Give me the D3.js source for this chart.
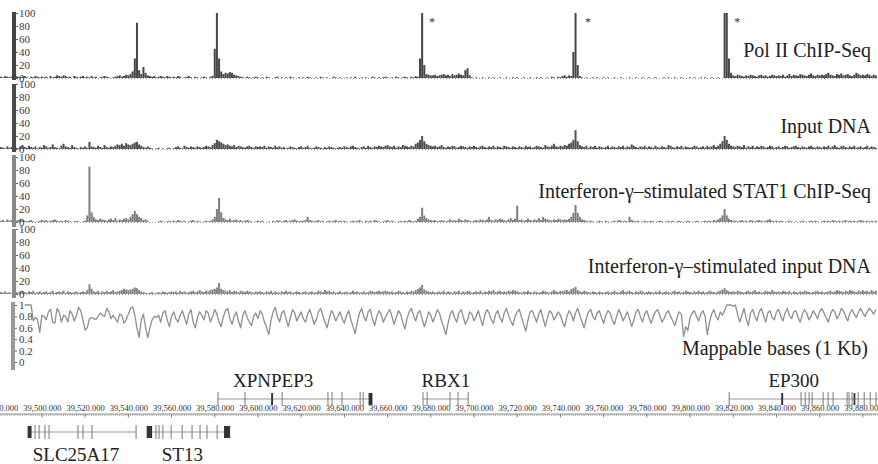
<!DOCTYPE html>
<html>
<head>
<meta charset="utf-8">
<script src="https://cdn.jsdelivr.net/npm/d3@7"></script>
<style>
  body { margin: 0; background: #fff; }
  svg { display: block; }
  text { font-family: "Liberation Serif", "DejaVu Serif", serif; }
</style>
</head>
<body>
<svg id="chart" width="878" height="464"></svg>
<script>
// ---- data (1 kb bins, first bin = 39,481 kb) ----
const binStart = 39481;

const trackLabels = [
  "Pol II ChIP-Seq",
  "Input DNA",
  "Interferon-\u03b3\u2013stimulated STAT1 ChIP-Seq",
  "Interferon-\u03b3\u2013stimulated input DNA"
];
const yTicks = [0, 20, 40, 60, 80, 100];

const polII = [
  2,1,3,2,1,2,0,3,2,1,2,3,1,0,2,1,3,2,1,2,
  1,2,0,3,1,2,4,3,2,4,3,1,2,0,3,2,1,2,3,1,
  2,1,3,1,2,0,1,2,3,2,1,0,1,2,3,4,2,3,5,4,
  6,10,30,85,12,6,17,8,4,3,2,3,1,2,3,2,1,3,2,1,
  2,1,3,2,0,1,2,3,1,0,2,1,0,1,2,1,0,2,3,45,
  100,30,10,6,8,7,9,8,5,4,3,2,1,0,2,1,0,1,2,1,
  0,1,0,2,1,0,0,1,2,0,1,0,1,0,2,1,0,0,1,0,
  1,0,2,1,0,0,1,0,2,1,0,1,0,0,2,1,0,1,0,0,
  1,0,1,0,2,0,0,1,0,1,0,0,2,1,0,1,0,1,2,1,
  0,1,0,2,1,0,1,2,1,0,2,1,3,2,30,100,20,6,5,4,
  4,5,3,4,5,6,4,5,3,6,4,5,7,5,4,12,15,4,1,0,
  1,0,0,1,0,0,1,0,1,0,0,1,0,0,1,0,0,1,0,1,
  0,0,1,0,0,1,0,0,1,0,1,0,0,1,0,2,1,0,2,1,
  3,4,2,4,3,40,100,20,3,1,0,1,0,0,1,0,1,0,0,1,
  0,1,0,0,1,0,0,1,0,0,0,1,0,0,1,0,0,1,0,0,
  1,0,0,1,0,0,0,1,0,1,0,0,1,0,0,1,0,0,0,1,
  0,1,0,0,1,0,1,0,0,1,0,0,1,0,0,100,100,30,8,4,
  3,5,4,3,2,4,3,5,4,3,2,4,5,3,4,2,3,5,4,3,
  4,3,5,2,4,6,3,5,4,3,6,5,4,3,5,7,4,3,5,4,
  5,4,6,8,5,4,3,6,5,7,4,5,6,4,3,5,8,6,4,5,
  4,6,5,3,5,4
];

const inputDNA = [
  3,2,1,4,2,3,5,2,1,4,6,3,2,5,3,2,4,1,3,2,
  6,4,2,3,7,3,2,1,5,8,4,3,2,6,3,2,1,3,2,4,
  2,11,4,3,2,5,3,2,6,3,2,4,3,5,7,6,8,5,9,7,
  6,8,10,11,7,5,3,2,4,2,1,0,1,2,0,1,0,1,2,0,
  1,3,4,2,1,5,3,2,4,3,2,4,3,2,3,5,4,3,6,9,
  14,12,10,8,6,7,5,4,6,3,5,4,3,2,4,5,3,2,4,3,
  4,3,5,2,4,3,2,5,3,4,2,3,1,2,4,3,2,1,3,4,
  2,3,5,2,1,2,4,3,2,1,3,2,4,3,2,1,2,3,2,4,
  3,2,4,5,3,2,1,3,4,2,5,3,2,4,3,5,4,3,5,6,
  4,3,5,2,4,3,6,5,4,3,5,4,8,10,14,20,12,8,6,5,
  4,5,3,4,6,3,2,4,3,5,4,2,3,5,4,3,2,4,3,5,
  3,2,4,5,3,2,4,3,5,2,4,3,2,5,4,3,2,4,3,2,
  4,3,2,5,3,4,2,3,5,4,3,2,6,4,3,5,8,4,3,5,
  4,6,5,8,10,14,29,12,6,4,3,5,2,4,3,5,2,4,3,2,
  3,5,2,4,3,2,4,3,5,2,4,3,7,5,3,2,4,3,5,2,
  4,3,2,5,3,2,4,3,2,6,5,3,2,4,3,5,2,4,3,2,
  3,5,4,2,3,4,2,5,3,4,6,3,5,8,12,20,14,8,5,4,
  3,5,4,3,6,2,4,3,5,2,4,3,5,4,2,3,5,4,2,3,
  4,2,3,5,4,2,3,4,5,3,2,4,3,2,4,5,3,2,4,3,
  2,4,3,5,2,4,6,3,2,4,5,3,2,4,3,5,2,3,4,2,
  3,5,2,4,3,2
];

const stat1 = [
  2,3,1,4,2,3,4,2,3,5,3,2,1,2,3,1,0,1,2,3,
  2,3,1,2,3,4,2,1,2,1,3,2,1,0,1,2,1,0,1,2,
  10,85,15,8,4,3,5,4,3,2,4,5,3,6,2,4,3,5,6,4,
  8,12,17,12,8,6,3,4,2,0,0,0,0,1,2,1,0,1,2,1,
  2,1,3,2,1,2,0,1,2,3,1,2,1,0,1,2,1,2,4,8,
  20,37,15,6,4,3,5,2,3,4,2,3,1,2,3,2,1,0,1,2,
  1,2,0,0,1,0,2,1,3,2,1,2,3,1,2,3,4,2,1,2,
  2,3,8,3,2,1,2,3,1,2,0,1,2,1,2,3,1,2,1,2,
  1,0,1,2,1,2,3,1,0,2,1,2,1,3,2,1,0,1,2,3,
  1,2,1,0,1,2,1,2,1,3,2,1,2,5,8,22,10,6,4,3,
  2,3,1,2,3,2,1,2,4,2,3,2,5,3,2,4,3,2,1,2,
  3,2,4,3,2,4,8,3,2,4,3,5,4,3,2,4,6,3,5,25,
  3,4,2,3,5,3,2,4,3,6,3,8,5,4,3,2,4,3,5,4,
  3,4,3,5,8,14,26,14,8,4,3,2,1,2,1,0,1,2,1,0,
  2,1,0,1,2,1,3,2,1,2,1,8,3,2,1,2,0,1,2,1,
  1,2,1,0,1,2,1,0,1,2,1,2,0,1,2,1,0,1,2,1,
  0,1,2,1,0,1,2,1,2,1,3,2,4,6,10,20,10,5,3,2,
  2,1,2,3,1,2,1,3,2,1,2,3,2,1,2,3,4,2,1,2,
  1,2,1,0,1,2,1,0,1,0,1,2,1,0,1,2,1,2,1,0,
  1,2,1,2,1,3,2,1,2,1,2,3,1,2,1,2,1,2,3,2,
  1,2,1,2,1,2
];

const ifnInput = [
  3,2,4,2,3,1,4,3,2,4,5,3,2,4,3,5,2,3,4,2,
  3,4,2,3,5,2,3,4,3,5,2,4,3,2,3,4,2,3,4,3,
  6,15,8,4,3,5,2,4,3,5,3,4,6,3,4,5,6,8,7,6,
  7,8,10,9,6,4,3,2,1,2,3,1,2,3,2,4,3,2,3,4,
  3,4,2,5,3,4,2,3,4,5,3,4,6,4,3,5,4,6,7,8,
  10,17,8,6,5,4,6,3,5,4,3,5,4,3,5,4,3,2,4,3,
  4,3,2,4,3,5,2,4,3,2,4,3,5,3,4,2,3,4,3,2,
  3,4,2,3,4,2,3,5,4,3,6,4,5,3,4,2,3,4,2,3,
  4,2,3,5,3,4,2,3,4,2,3,5,4,3,4,5,3,4,5,4,
  3,4,2,3,5,4,3,2,4,3,5,4,6,8,10,14,7,5,4,3,
  4,2,3,4,3,5,2,4,3,2,4,3,5,2,4,3,5,4,2,3,
  4,3,5,2,4,3,5,4,6,3,4,5,3,4,3,5,4,6,5,4,
  3,2,4,3,5,3,2,4,3,2,3,5,4,3,2,4,6,4,3,5,
  4,5,6,4,7,9,11,6,4,3,5,4,3,2,4,3,2,4,3,2,
  3,4,2,3,5,3,2,4,6,3,4,5,3,2,4,3,5,4,2,3,
  4,3,2,4,3,5,2,3,4,3,2,4,5,3,4,2,3,5,4,3,
  2,4,3,5,3,4,2,3,5,4,3,2,4,5,7,9,6,4,3,4,
  3,5,4,3,2,4,5,3,4,6,3,4,2,3,5,4,3,6,4,3,
  4,3,5,4,3,5,2,4,3,2,4,3,5,4,3,2,3,4,5,3,
  4,2,3,4,5,3,4,6,5,4,3,5,4,6,5,4,3,5,4,6,
  4,5,3,6,4,5
];

// mappable bases per 1 kb window, in percent, starting at 39,492 kb
const mapStart = 39492;
const mapLabel = "Mappable bases (1 Kb)";
const mapTicks = [0, 20, 40, 60, 80, 100];
const mappablePct = [
  100,100,100,100,72,78,74,52,82,
  80,74,88,92,70,68,94,88,70,82,80,70,90,84,72,82,96,90,74,56,
  60,76,78,76,75,80,86,82,80,94,88,76,82,76,70,84,82,68,74,84,
  94,97,82,60,43,74,84,60,43,60,74,80,78,82,70,86,90,74,62,80,
  88,76,70,82,90,78,66,84,92,70,60,78,88,82,74,90,86,70,80,92,
  84,70,62,80,90,94,76,66,80,88,72,60,82,90,78,70,64,80,86,76,
  90,84,70,60,48,72,88,96,80,70,86,90,76,62,78,92,86,72,80,88,
  76,70,84,92,80,66,74,88,94,82,70,60,76,90,84,72,80,88,76,68,
  82,90,74,62,50,70,86,94,80,72,88,92,76,64,80,90,84,70,78,86,
  92,80,66,78,90,84,70,58,76,88,94,82,72,86,90,76,62,74,88,82,
  70,80,92,86,72,60,48,68,84,90,78,70,86,92,80,66,74,88,84,72,
  80,90,76,64,82,92,86,74,68,84,90,78,70,86,94,82,72,64,80,88,
  92,78,66,54,74,88,90,80,70,84,92,76,62,78,90,86,74,80,88,82,
  70,62,80,90,84,72,86,94,82,70,60,76,88,92,80,74,86,90,78,68,
  82,90,86,74,66,80,92,84,72,80,88,76,62,74,88,92,80,70,84,90,
  78,68,80,88,92,82,70,76,86,90,80,72,64,78,88,84,45,62,55,78,
  86,90,80,72,84,90,80,48,70,84,92,80,74,88,82,90,100,100,100,98,
  100,84,70,82,94,76,64,86,92,80,72,88,94,82,70,86,90,78,74,88,
  92,80,72,86,94,82,76,88,90,78,70,84,92,86,74,80,90,84,76,88,
  94,86,78,70,84,92,88,76,82,94,90,80,72,86,92,84,78,88,94,86,
  80,88,94,90,84,92
];

// asterisks next to the saturated Pol II peaks (kb)
const asteriskKb = [39680.6, 39752.8, 39821.8];

// genomic axis labels (kb)
const rulerTicks = d3.range(39480, 39881, 20);

// genes (kb); row 0 = above the ruler, row 1 = below
const geneNames = ["XPNPEP3", "RBX1", "EP300", "SLC25A17", "ST13"];
const geneRow = [0, 0, 0, 1, 1];
const geneStart = [39581.5, 39676.4, 39818.1, 39493.4, 39548.5];
const geneEnd = [39653.0, 39697.3, 39887.0, 39543.6, 39587.1];
const geneLabelKb = [39607, 39687, 39848, 39515.8, 39565];
const geneExons = [
  [39581.5, 39594.0, 39611.2, 39632.4, 39634.3, 39638.9, 39647.3, 39648.7],
  [39676.4, 39678.3, 39688.9, 39692.6, 39697.3],
  [39818.1, 39851.4, 39853.3, 39855.1, 39856.5, 39861.6, 39863.9, 39866.2,
   39872.7, 39873.6, 39875.0, 39877.8, 39880.6, 39883.4, 39886.1],
  [39496.8, 39498.7, 39501.4, 39503.3, 39516.7, 39519.0, 39523.2, 39543.6],
  [39552.8, 39554.2, 39556.0, 39559.8, 39564.9, 39569.5, 39573.2, 39576.4, 39581.1]
];
const geneBlocks = [
  [[39606.1, 39607.0], [39651.2, 39653.0]],
  [],
  [[39842.2, 39843.1], [39875.7, 39876.5]],
  [[39493.4, 39495.2]],
  [[39548.5, 39551.0], [39584.3, 39587.1]]
];

// ---- drawing ----
const W = 878, H = 464;
const serif = "Liberation Serif, DejaVu Serif, serif";
const svg = d3.select("#chart");

const x = d3.scaleLinear().domain([39480.6, 39887]).range([0, W]);

const trackData = [polII, inputDNA, stat1, ifnInput];
const trackTop = [13, 84, 157, 229];
const trackBase = [78, 149, 222, 294];
const barSpan = [[12, 80], [84, 152], [155, 227], [229, 298]];
const trackColor = ["#474747", "#4f4f4f", "#7d7d7d", "#858585"];
const sideColor = ["#444", "#4a4a4a", "#888", "#8a8a8a"];
const labelY = [57, 133, 198, 273];

trackData.forEach((vals, t) => {
  const g = svg.append("g");
  const y = d3.scaleLinear().domain([0, 100]).range([trackBase[t], trackTop[t]]).clamp(true);

  // faint dotted baseline
  g.append("line")
    .attr("x1", 17).attr("x2", W)
    .attr("y1", trackBase[t] + 0.5).attr("y2", trackBase[t] + 0.5)
    .attr("stroke", "#999").attr("stroke-dasharray", "1,2");

  g.selectAll("rect.bin")
    .data(vals)
    .join("rect")
    .attr("class", "bin")
    .attr("x", (d, i) => x(binStart + i) - 1)
    .attr("width", 2)
    .attr("y", d => y(d))
    .attr("height", d => trackBase[t] - y(d))
    .attr("fill", trackColor[t]);

  // left scale bar
  g.append("rect")
    .attr("x", 12).attr("width", 4)
    .attr("y", barSpan[t][0]).attr("height", barSpan[t][1] - barSpan[t][0])
    .attr("fill", sideColor[t]);

  const ax = g.append("g")
    .attr("transform", "translate(16,0)")
    .call(d3.axisRight(y).tickValues(yTicks).tickSize(2).tickPadding(1).tickFormat(d3.format("d")));
  ax.select(".domain").remove();
  ax.selectAll("line").attr("stroke", "#666");
  ax.selectAll("text").attr("font-family", serif).attr("font-size", 11).attr("fill", "#3a3a3a");

  g.append("text")
    .attr("x", 871).attr("y", labelY[t])
    .attr("text-anchor", "end")
    .attr("font-family", serif)
    .attr("font-size", 20).attr("fill", "#222")
    .text(trackLabels[t]);
});

// asterisks
svg.selectAll("text.star")
  .data(asteriskKb)
  .join("text")
  .attr("class", "star")
  .attr("x", d => x(d)).attr("y", 26)
  .attr("text-anchor", "middle")
  .attr("font-family", serif)
  .attr("font-size", 12).attr("fill", "#333")
  .text("*");

// mappability track
{
  const g = svg.append("g");
  const ym = d3.scaleLinear().domain([0, 100]).range([362, 305]);
  g.append("rect").attr("x", 11).attr("width", 4).attr("y", 302).attr("height", 68).attr("fill", "#999");
  const ax = g.append("g")
    .attr("transform", "translate(15,0)")
    .call(d3.axisRight(ym).tickValues(mapTicks).tickSize(2).tickPadding(2).tickFormat(d => d3.format("~g")(d / 100)));
  ax.select(".domain").remove();
  ax.selectAll("line").attr("stroke", "#666");
  ax.selectAll("text").attr("font-family", serif).attr("font-size", 11).attr("fill", "#3a3a3a");

  g.append("path")
    .datum(mappablePct)
    .attr("fill", "none")
    .attr("stroke", "#8f8f8f")
    .attr("stroke-width", 1.3)
    .attr("stroke-linejoin", "round")
    .attr("d", d3.line().x((d, i) => x(mapStart + i)).y(d => ym(d)));

  g.append("text")
    .attr("x", 868).attr("y", 355)
    .attr("text-anchor", "end")
    .attr("font-family", serif)
    .attr("font-size", 20).attr("fill", "#222")
    .text(mapLabel);
}

// genomic ruler
{
  const rulerY = 414;
  const g = svg.append("g");
  g.append("line").attr("x1", 0).attr("x2", W).attr("y1", rulerY).attr("y2", rulerY)
    .attr("stroke", "#777").attr("stroke-width", 0.8);
  g.selectAll("line.minor")
    .data(d3.range(39481, 39887))
    .join("line")
    .attr("class", "minor")
    .attr("x1", d => x(d)).attr("x2", d => x(d))
    .attr("y1", rulerY).attr("y2", rulerY + 2)
    .attr("stroke", "#888").attr("stroke-width", 0.6);
  const ax = g.append("g")
    .attr("transform", `translate(0,${rulerY})`)
    .call(d3.axisTop(x).tickValues(rulerTicks).tickSize(0).tickPadding(3).tickFormat(d3.format(",.3f")));
  ax.select(".domain").remove();
  ax.selectAll("text").attr("font-family", serif).attr("font-size", 8.5).attr("fill", "#333");
  g.selectAll("line.major")
    .data(rulerTicks)
    .join("line")
    .attr("class", "major")
    .attr("x1", d => x(d)).attr("x2", d => x(d))
    .attr("y1", rulerY).attr("y2", rulerY + 3.5)
    .attr("stroke", "#666").attr("stroke-width", 0.8);
}

// gene models
{
  const rowLine = [399, 432];
  const rowLabel = [387, 461];
  const g = svg.append("g");
  geneNames.forEach((name, k) => {
    const cy = rowLine[geneRow[k]];
    g.append("line")
      .attr("x1", x(geneStart[k])).attr("x2", Math.min(W, x(geneEnd[k])))
      .attr("y1", cy).attr("y2", cy)
      .attr("stroke", "#999").attr("stroke-width", 1);
    g.selectAll(null)
      .data(geneExons[k])
      .join("line")
      .attr("x1", d => x(d)).attr("x2", d => x(d))
      .attr("y1", cy - 7).attr("y2", cy + 7)
      .attr("stroke", "#7a7a7a").attr("stroke-width", 1);
    g.selectAll(null)
      .data(geneBlocks[k])
      .join("rect")
      .attr("x", d => x(d[0]))
      .attr("width", d => Math.max(1.5, x(d[1]) - x(d[0])))
      .attr("y", cy - 6).attr("height", 12)
      .attr("fill", "#333");
    g.append("text")
      .attr("x", x(geneLabelKb[k])).attr("y", rowLabel[geneRow[k]])
      .attr("text-anchor", "middle")
      .attr("font-family", serif)
      .attr("font-size", 19).attr("fill", "#222")
      .text(name);
  });
}
</script>
</body>
</html>
